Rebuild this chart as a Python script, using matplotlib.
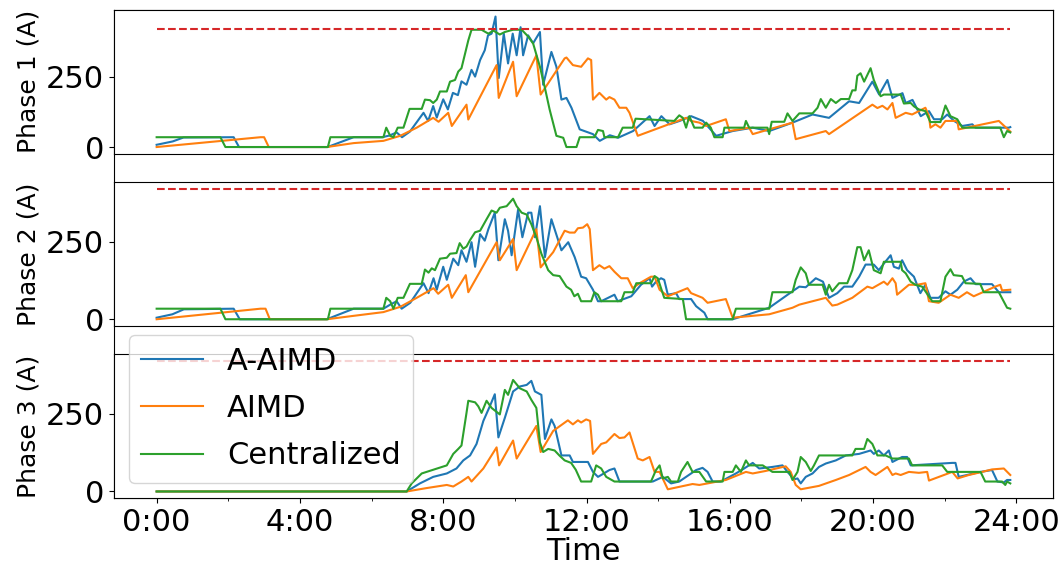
import matplotlib.pyplot as plt
from matplotlib.ticker import MultipleLocator, FuncFormatter

limit = 420
t_end = 23.83
labels = ['A-AIMD', 'AIMD', 'Centralized']

# ---- Phase 1 ----
p1_aaimd_t = [0, 0.45, 0.75, 2.15, 2.3, 4.77, 5.5, 6.3, 6.5, 6.7, 6.85, 7.07, 7.45, 7.58, 7.72, 7.82, 8.0,
              8.13, 8.27, 8.41, 8.51, 8.65, 8.79, 8.89, 9.03, 9.16, 9.25, 9.35, 9.46, 9.55, 9.69, 9.81, 9.94,
              10.05, 10.16, 10.23, 10.37, 10.51, 10.7, 10.79, 11.02, 11.16, 11.3, 11.44, 11.58, 11.81, 12.18,
              12.37, 12.65, 12.88, 13.3, 13.76, 13.9, 14.09, 14.32, 14.6, 14.92, 15.25, 15.62, 16.08, 16.64,
              17.1, 17.75, 18.31, 18.77, 19.33, 19.61, 19.98, 20.17, 20.4, 20.54, 20.82, 20.91, 21.1, 21.33,
              21.56, 21.7, 21.93, 22.07, 22.26, 22.49, 22.77, 22.86, 23.79, 23.83]
p1_aaimd_v = [8, 20, 34, 35, 0, 0, 35, 35, 41, 52, 35, 55, 122, 93, 146, 105, 170, 134, 193, 185, 234, 222,
              275, 251, 310, 345, 398, 404, 465, 246, 404, 298, 404, 327, 427, 327, 398, 370, 410, 222, 339,
              286, 169, 175, 140, 63, 46, 22, 42, 33, 57, 110, 75, 110, 81, 93, 110, 93, 40, 57, 69, 57, 87,
              116, 104, 163, 157, 233, 187, 239, 175, 192, 157, 168, 110, 128, 99, 99, 116, 93, 75, 81, 69,
              69, 71]
p1_aimd_t = [0, 2.9, 3.0, 3.13, 4.75, 5.5, 6.33, 6.8, 7.26, 7.72, 7.87, 8.14, 8.24, 8.65, 8.7, 9.49, 9.55,
             9.95, 10.05, 10.6, 10.72, 11.39, 11.44, 11.62, 11.85, 12.04, 12.13, 12.18, 12.36, 12.55, 12.64,
             12.78, 12.92, 13.11, 13.2, 13.43, 14.78, 14.92, 15.15, 15.34, 15.89, 15.99, 16.54, 16.64, 17.75,
             17.84, 18.68, 18.77, 19.98, 20.12, 20.26, 20.4, 20.54, 20.63, 20.91, 21.09, 21.46, 21.56, 21.6,
             21.74, 21.88, 22.02, 22.35, 22.39, 23.51, 23.83]
p1_aimd_v = [0, 35, 35, 0, 0, 14, 22, 40, 69, 104, 90, 122, 75, 151, 98, 292, 175, 304, 181, 327, 187, 316,
             319, 292, 286, 316, 310, 169, 193, 169, 178, 169, 140, 140, 122, 40, 104, 93, 87, 75, 99, 57, 69,
             46, 87, 28, 57, 46, 151, 139, 147, 134, 157, 104, 122, 116, 140, 110, 69, 81, 69, 93, 93, 63, 93,
             55]
p1_central_t = [0, 1.78, 1.92, 4.78, 4.85, 6.33, 6.41, 6.52, 6.61, 6.73, 6.89, 7.06, 7.4, 7.49, 7.63, 7.72,
                7.82, 7.91, 8.1, 8.19, 8.33, 8.42, 8.51, 8.61, 8.7, 8.79, 9.07, 9.26, 9.4, 9.58, 9.72, 9.95,
                10.19, 10.37, 10.51, 10.7, 10.84, 10.97, 11.16, 11.35, 11.44, 11.72, 11.81, 12.22, 12.32,
                12.46, 12.5, 12.88, 13.01, 13.29, 13.37, 14.45, 14.59, 14.69, 14.78, 14.87, 15.01, 15.24,
                15.34, 15.47, 15.57, 15.8, 15.85, 16.4, 16.45, 16.54, 17.05, 17.1, 17.17, 17.52, 17.61, 17.75,
                17.94, 18.31, 18.45, 18.54, 18.68, 18.82, 18.96, 19.1, 19.33, 19.42, 19.51, 19.56, 19.65,
                19.75, 19.93, 20.02, 20.21, 20.3, 20.77, 20.86, 21.05, 21.14, 21.28, 21.46, 21.6, 21.88, 22.02,
                22.16, 22.35, 22.49, 23.41, 23.55, 23.65, 23.74, 23.83]
p1_central_v = [35, 35, 0, 0, 35, 35, 69, 40, 35, 69, 69, 136, 136, 169, 167, 157, 169, 198, 198, 233, 239,
                269, 281, 333, 380, 418, 418, 404, 415, 401, 410, 418, 418, 394, 369, 286, 210, 134, 40, 33,
                0, 0, 35, 35, 61, 57, 35, 35, 69, 69, 101, 93, 113, 104, 69, 110, 69, 69, 87, 69, 35, 35, 69,
                69, 93, 69, 69, 46, 90, 90, 120, 93, 120, 120, 140, 171, 140, 171, 157, 171, 171, 202, 202,
                254, 263, 233, 281, 239, 181, 187, 187, 155, 157, 145, 134, 128, 89, 89, 148, 110, 99, 69, 69,
                69, 35, 57, 52]

# ---- Phase 2 ----
p2_aaimd_t = [0, 0.44, 0.76, 2.15, 2.32, 4.75, 5.5, 6.33, 6.52, 6.7, 6.84, 7.08, 7.45, 7.59, 7.73, 7.82, 8.0,
              8.1, 8.28, 8.42, 8.51, 8.65, 8.79, 8.89, 9.03, 9.16, 9.26, 9.44, 9.54, 9.72, 9.81, 9.91, 10.09,
              10.21, 10.37, 10.46, 10.56, 10.7, 10.84, 11.02, 11.3, 11.49, 11.67, 11.85, 11.99, 12.18, 12.32,
              12.41, 12.78, 12.87, 13.25, 13.52, 13.76, 13.83, 13.94, 14.08, 14.17, 14.27, 14.5, 14.59, 14.92,
              15.06, 15.29, 15.38, 16.08, 17.1, 17.75, 17.94, 18.12, 18.4, 18.6, 18.77, 19.0, 19.19, 19.42,
              19.61, 19.79, 20.02, 20.16, 20.3, 20.49, 20.58, 20.72, 20.81, 20.95, 21.14, 21.32, 21.46, 21.6,
              21.83, 22.02, 22.16, 22.35, 22.53, 22.72, 22.86, 23.32, 23.51, 23.83]
p2_aaimd_v = [5, 16, 32, 34, 0, 0, 34, 34, 47, 58, 34, 53, 116, 84, 132, 95, 169, 127, 195, 174, 222, 185,
              248, 169, 274, 253, 290, 343, 190, 322, 285, 206, 353, 264, 343, 343, 264, 364, 200, 322, 222,
              248, 200, 137, 132, 95, 58, 58, 79, 58, 74, 111, 132, 105, 121, 132, 127, 79, 84, 65, 65, 42, 21,
              0, 0, 37, 90, 105, 103, 132, 121, 69, 84, 105, 105, 137, 176, 176, 158, 179, 206, 169, 163, 190,
              158, 137, 84, 111, 69, 69, 90, 79, 95, 121, 132, 113, 113, 87, 87]
p2_aimd_t = [0, 2.9, 3.04, 3.16, 4.75, 5.5, 6.33, 6.8, 7.26, 7.73, 7.86, 8.14, 8.24, 8.63, 8.7, 9.49, 9.58,
             9.95, 10.05, 10.6, 10.72, 11.07, 11.39, 11.53, 11.67, 11.76, 11.9, 12.02, 12.09, 12.18, 12.36,
             12.5, 12.64, 12.78, 12.97, 13.15, 13.29, 13.48, 13.8, 13.9, 14.04, 14.27, 14.82, 14.92, 15.24,
             15.38, 15.89, 16.08, 17.1, 17.75, 17.94, 18.31, 18.68, 18.86, 19.0, 19.42, 19.84, 19.98, 20.3,
             20.4, 20.54, 20.63, 20.67, 21.0, 21.23, 21.46, 21.56, 21.83, 22.16, 22.39, 22.62, 22.81, 23.41,
             23.55, 23.6, 23.83]
p2_aimd_v = [0, 34, 34, 0, 0, 11, 23, 40, 69, 100, 82, 111, 69, 142, 87, 248, 190, 258, 158, 290, 167, 216,
             285, 279, 279, 293, 295, 306, 290, 158, 174, 163, 171, 153, 132, 132, 100, 116, 137, 137, 95, 74,
             100, 84, 69, 53, 65, 5, 16, 37, 47, 58, 69, 44, 47, 69, 105, 100, 121, 111, 132, 116, 79, 111,
             111, 116, 58, 53, 79, 69, 87, 74, 105, 111, 93, 95]
p2_central_t = [0, 1.78, 1.92, 4.78, 4.85, 6.33, 6.41, 6.52, 6.61, 6.73, 6.89, 7.07, 7.4, 7.49, 7.59, 7.68,
                7.77, 7.91, 8.1, 8.19, 8.37, 8.46, 8.56, 8.65, 8.75, 8.89, 9.03, 9.21, 9.35, 9.49, 9.58, 9.77,
                9.95, 10.05, 10.19, 10.33, 10.46, 10.6, 10.74, 10.93, 11.07, 11.25, 11.44, 11.57, 11.66,
                11.76, 11.85, 12.13, 12.22, 12.32, 12.41, 12.97, 13.06, 13.29, 13.39, 13.8, 13.9, 13.99, 14.08,
                14.17, 14.69, 14.78, 16.08, 16.17, 17.1, 17.19, 17.75, 17.84, 17.98, 18.12, 18.21, 18.59,
                18.68, 18.77, 18.86, 19.05, 19.28, 19.42, 19.56, 19.65, 19.75, 19.88, 20.02, 20.21, 20.3,
                20.77, 20.81, 20.91, 21.05, 21.18, 21.37, 21.46, 21.65, 21.88, 22.02, 22.16, 22.25, 22.48,
                22.58, 22.99, 23.09, 23.51, 23.74, 23.83]
p2_central_v = [34, 34, 0, 0, 34, 34, 69, 58, 34, 69, 69, 114, 114, 160, 150, 164, 158, 195, 198, 211, 213,
                245, 227, 234, 255, 280, 285, 322, 350, 343, 359, 364, 388, 364, 343, 337, 306, 264, 211,
                158, 142, 139, 105, 95, 74, 82, 58, 58, 87, 79, 58, 58, 87, 87, 116, 116, 139, 132, 100, 69,
                65, 0, 0, 34, 34, 87, 87, 127, 167, 148, 111, 111, 79, 111, 90, 116, 116, 158, 232, 232, 190,
                222, 158, 148, 185, 185, 158, 148, 121, 111, 105, 90, 58, 58, 137, 161, 142, 139, 116, 114, 87,
                87, 37, 34]

# ---- Phase 3 ----
p3_aaimd_t = [0, 6.98, 7.35, 7.72, 8.1, 8.37, 8.56, 8.75, 8.93, 9.12, 9.3, 9.44, 9.54, 9.72, 9.95, 10.14,
              10.33, 10.46, 10.56, 10.74, 10.84, 11.02, 11.11, 11.3, 11.53, 11.62, 11.76, 12.04, 12.18, 12.32,
              12.41, 12.64, 12.78, 12.92, 13.85, 14.13, 14.36, 14.59, 14.78, 15.06, 15.24, 15.38, 15.52,
              15.75, 16.17, 16.4, 16.64, 16.82, 17.19, 17.47, 17.61, 17.8, 17.89, 17.98, 18.12, 18.31, 18.49,
              18.68, 18.96, 19.24, 19.61, 19.93, 20.02, 20.16, 20.3, 20.44, 20.54, 20.81, 20.95, 21.05, 22.21,
              22.3, 22.39, 23.0, 23.32, 23.47, 23.65, 23.74, 23.83]
p3_aaimd_v = [0, 0, 26, 47, 58, 74, 100, 116, 153, 227, 274, 313, 174, 237, 322, 338, 343, 356, 322, 311,
              169, 232, 211, 116, 116, 95, 95, 95, 63, 47, 53, 69, 74, 32, 32, 47, 26, 32, 47, 69, 76, 63, 32,
              32, 58, 74, 92, 74, 79, 84, 63, 39, 42, 26, 47, 58, 79, 90, 100, 116, 121, 132, 121, 132, 116,
              132, 95, 111, 111, 84, 92, 92, 47, 63, 69, 32, 29, 37, 37]
p3_aimd_t = [0, 6.98, 7.54, 8.1, 8.28, 8.51, 8.7, 8.79, 9.12, 9.49, 9.56, 9.95, 10.05, 10.6, 10.72, 11.07,
             11.48, 11.62, 11.76, 11.85, 11.99, 12.1, 12.18, 12.41, 12.55, 12.78, 12.92, 13.06, 13.2, 13.43,
             13.57, 13.76, 13.9, 14.04, 14.27, 14.96, 15.15, 15.89, 16.45, 16.64, 17.0, 17.56, 17.7, 17.84,
             17.98, 18.49, 18.96, 19.33, 19.79, 19.93, 20.07, 20.4, 20.54, 20.63, 20.77, 21.0, 21.28, 21.51,
             21.56, 22.21, 22.36, 22.67, 23.04, 23.32, 23.65, 23.83]
p3_aimd_v = [0, 0, 11, 21, 16, 32, 47, 32, 74, 142, 84, 164, 106, 211, 127, 195, 229, 216, 229, 222, 232,
             227, 121, 153, 158, 185, 172, 174, 190, 106, 100, 111, 63, 63, 7, 24, 21, 37, 63, 58, 66, 81, 63,
             21, 7, 18, 37, 53, 79, 63, 53, 79, 53, 58, 53, 63, 60, 63, 35, 63, 42, 53, 63, 71, 74, 53]
p3_central_t = [0, 6.98, 7.12, 7.4, 8.1, 8.28, 8.42, 8.51, 8.65, 8.7, 8.89, 8.98, 9.07, 9.21, 9.35, 9.58,
                9.72, 9.81, 9.95, 10.14, 10.33, 10.46, 10.6, 10.7, 10.79, 10.93, 11.11, 11.25, 11.39, 11.57,
                11.7, 11.85, 12.13, 12.27, 12.41, 12.55, 12.78, 13.8, 13.94, 14.04, 14.13, 14.27, 14.36,
                14.55, 14.64, 14.82, 14.96, 15.15, 15.34, 15.8, 15.85, 16.08, 16.17, 16.31, 16.45, 16.54,
                16.92, 17.19, 17.66, 17.75, 17.89, 17.98, 18.12, 18.26, 18.35, 18.49, 19.42, 19.51, 19.75,
                19.84, 19.98, 20.12, 20.35, 20.54, 21.0, 21.09, 21.93, 22.07, 23.0, 23.13, 23.6, 23.69, 23.74,
                23.83]
p3_central_v = [0, 0, 26, 58, 84, 121, 137, 148, 253, 292, 287, 274, 253, 292, 269, 248, 327, 311, 359, 332,
                322, 295, 269, 158, 127, 137, 132, 115, 100, 92, 70, 32, 32, 84, 74, 47, 32, 32, 69, 84, 42,
                47, 32, 32, 63, 95, 63, 63, 32, 32, 63, 63, 84, 63, 100, 84, 84, 63, 63, 37, 63, 111, 95, 66,
                84, 116, 116, 137, 137, 169, 153, 116, 116, 106, 106, 84, 84, 63, 63, 32, 32, 21, 32, 26]

phases = [
    ('Phase 1 (A)', [(p1_aaimd_t, p1_aaimd_v), (p1_aimd_t, p1_aimd_v), (p1_central_t, p1_central_v)]),
    ('Phase 2 (A)', [(p2_aaimd_t, p2_aaimd_v), (p2_aimd_t, p2_aimd_v), (p2_central_t, p2_central_v)]),
    ('Phase 3 (A)', [(p3_aaimd_t, p3_aaimd_v), (p3_aimd_t, p3_aimd_v), (p3_central_t, p3_central_v)]),
]
colors = ['tab:blue', 'tab:orange', 'tab:green']

fig = plt.figure(figsize=(10.62, 5.67), dpi=100)

# background frame spanning all three panels
big = fig.add_subplot(111, zorder=-1)
big.set_xticks([])
big.set_yticks([])

axes = [fig.add_subplot(3, 1, i + 1) for i in range(3)]
fig.subplots_adjust(left=0.1073, right=0.9915, bottom=0.1217, top=0.9823, hspace=0.2)

for ax, (ylabel, series) in zip(axes, phases):
    for (t, v), c, lab in zip(series, colors, labels):
        ax.plot(t, v, color=c, linewidth=1.5, label=lab)
    ax.plot([0, t_end], [limit, limit], '--', color='tab:red', linewidth=1.5)
    ax.set_ylabel(ylabel, fontsize=18)
    ax.set_yticks([0, 250])
    ax.tick_params(axis='y', labelsize=22)
    ax.xaxis.set_major_locator(MultipleLocator(4))
    ax.xaxis.set_minor_locator(MultipleLocator(2))

for ax in axes[:2]:
    ax.tick_params(axis='x', which='both', bottom=False, labelbottom=False)
    ax.sharex(axes[2])

ax3 = axes[2]
ax3.xaxis.set_major_formatter(FuncFormatter(lambda x, pos: '%d:00' % int(round(x))))
ax3.tick_params(axis='x', labelsize=22)
ax3.set_xlabel('Time', fontsize=22, labelpad=0)
ax3.legend(loc='lower left', fontsize=22, labelspacing=0.6)

plt.savefig('out.png', dpi=100)
